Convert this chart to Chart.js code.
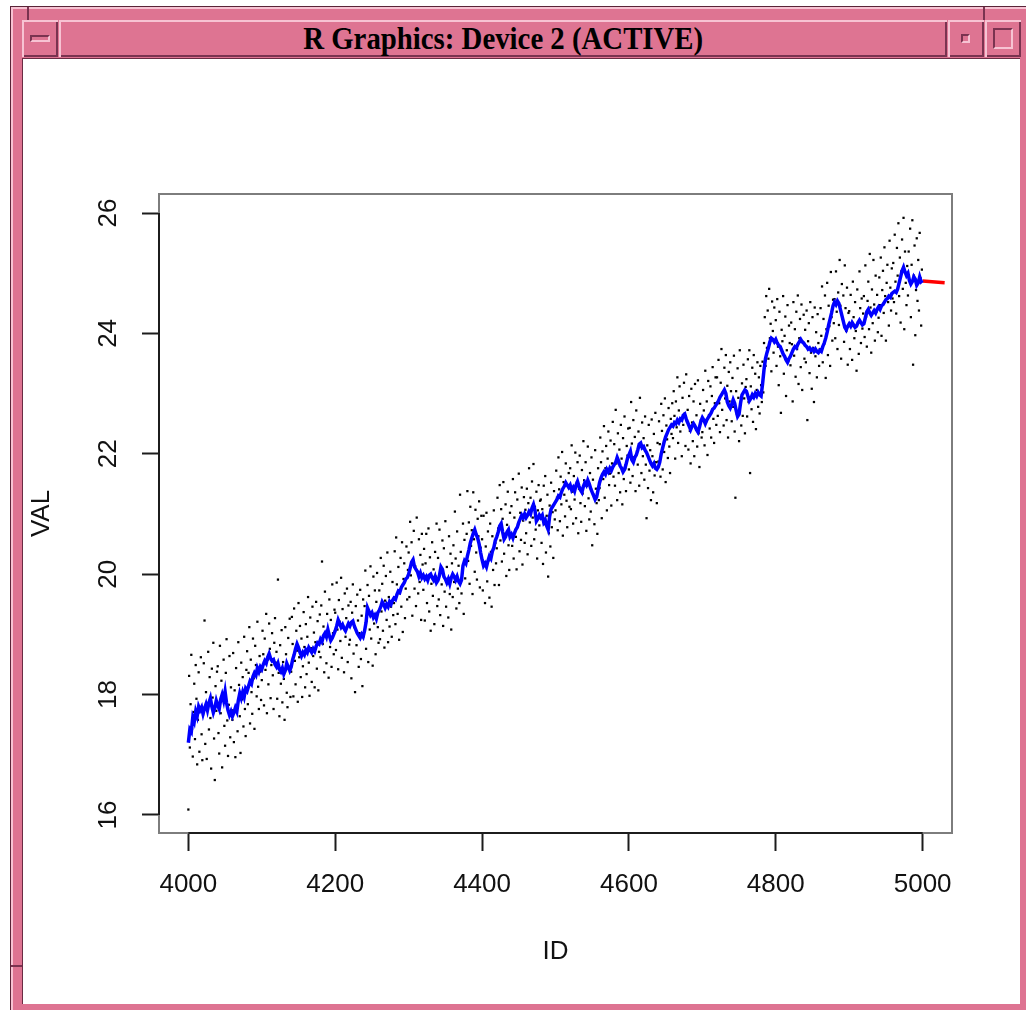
<!DOCTYPE html>
<html>
<head>
<meta charset="utf-8">
<script src="https://cdn.jsdelivr.net/npm/chart.js@4.4.1/dist/chart.umd.min.js"></script>
<style>
html,body{margin:0;padding:0;background:#fff;}
#win{position:relative;width:1026px;height:1010px;overflow:hidden;background:#fff;}
.p{position:absolute;box-sizing:border-box;background:#de7492;}
.bev{box-shadow:inset 2px 2px 0 #f7c3d3, inset -2px -2px 0 #7a3350;}
.ico{position:absolute;box-sizing:border-box;border-style:solid;border-width:2px;border-color:#7a3350 #f7c3d3 #f7c3d3 #7a3350;}
#content{position:absolute;left:22px;top:58px;width:998px;height:946px;background:#fff;border-left:1px solid #6a2c44;border-top:1px solid #6a2c44;box-sizing:border-box;}
#title{position:absolute;left:59px;top:20px;width:888px;height:37px;display:flex;align-items:center;justify-content:center;font-family:"Liberation Serif",serif;font-weight:bold;font-size:32px;color:#000;}
#title span{display:inline-block;transform:scaleX(0.9);white-space:nowrap;}
#c{position:absolute;left:0;top:0;}
</style>
</head>
<body>
<div id="win">
  <div class="p" style="left:10px;top:6px;width:1030px;height:1020px;border:1px solid #5a2438;box-shadow:inset 2px 2px 0 #f7c3d3, inset -2px -2px 0 #7a3350;"></div>
  <div class="p" style="left:27px;top:7px;width:2px;height:13px;background:#7a3350;"></div>
  <div class="p" style="left:983px;top:7px;width:2px;height:13px;background:#7a3350;"></div>
  <div class="p" style="left:11px;top:965px;width:11px;height:2px;background:#7a3350;"></div>
  <div class="p bev" style="left:22px;top:20px;width:36px;height:37px;"></div>
  <div class="ico" style="left:30px;top:35px;width:20px;height:7px;"></div>
  <div class="p bev" style="left:59px;top:20px;width:888px;height:37px;"></div>
  <div class="p bev" style="left:948px;top:20px;width:36px;height:37px;"></div>
  <div class="ico" style="left:961px;top:34px;width:9px;height:9px;"></div>
  <div class="p bev" style="left:985px;top:20px;width:36px;height:37px;"></div>
  <div class="ico" style="left:993px;top:28px;width:20px;height:21px;"></div>
  <div id="title"><span>R Graphics: Device 2 (ACTIVE)</span></div>
  <div id="content"></div>
  <canvas id="c" width="1026" height="1010"></canvas>
</div>
<script>
// ---- data ----
const xTicks = [4000, 4200, 4400, 4600, 4800, 5000];
const yTicks = [16, 18, 20, 22, 24, 26];
const xRange = [3960, 5040];
const yRange = [15.70, 26.316];

// scatter: one value per ID, starting at ID 4000
const scatterStart = 4000;
const scatterVals = [
16.09,18.31,17.12,17.84,18.66,17.43,16.97,17.71,18.18,17.26,18.49,17.93,16.84,17.58,18.37,17.05,17.79,18.62,17.34,16.91,
17.67,18.52,19.23,17.18,18.04,16.93,17.86,18.71,17.42,18.29,17.61,16.77,18.43,17.95,18.86,17.27,16.58,18.14,17.73,18.38,
18.47,17.36,17.02,18.81,17.69,18.23,16.79,17.94,18.58,17.48,17.15,18.36,18.92,17.57,16.98,17.83,18.64,17.29,18.12,17.74,
17.58,18.69,17.21,18.07,16.96,18.44,17.82,17.39,18.87,18.16,17.64,17.03,18.53,17.92,18.29,17.47,18.96,17.76,17.31,18.41,
18.72,17.84,18.36,19.12,17.52,18.58,18.04,17.68,18.93,18.27,17.43,18.81,18.49,17.97,19.21,18.13,17.76,18.64,18.38,17.91,
18.24,19.06,18.67,17.82,18.93,18.41,19.34,17.69,18.58,18.17,19.18,18.76,17.94,18.49,19.02,18.32,17.76,18.86,19.27,18.53,
18.71,17.93,19.91,18.36,17.64,18.82,18.18,19.07,17.87,18.54,18.26,17.58,19.12,18.67,18.03,17.79,18.94,18.42,19.26,17.96,
18.38,19.29,18.84,17.97,19.43,18.56,18.17,19.06,18.73,17.88,19.52,18.62,19.14,18.29,18.93,17.96,18.47,19.37,18.79,18.12,
19.17,18.34,18.96,19.62,18.53,17.98,19.28,18.77,18.21,19.46,18.64,19.03,18.12,18.87,19.54,18.43,19.22,18.07,18.71,19.33,
18.62,19.48,20.21,18.84,19.13,18.37,19.71,18.96,18.52,19.34,19.07,18.28,19.58,18.79,19.24,18.46,19.83,19.02,18.67,19.41,
19.36,18.74,19.86,19.08,18.42,19.57,19.21,18.89,19.94,18.61,19.42,19.13,18.37,19.68,18.96,19.27,19.76,18.54,19.48,18.83,
18.91,19.54,18.27,19.36,19.83,18.68,19.12,18.04,19.47,18.82,19.66,19.23,18.46,19.02,19.74,18.59,19.31,18.14,19.58,18.97,
19.47,20.06,18.76,19.23,19.82,18.54,19.64,19.08,20.13,18.93,19.37,18.48,19.96,19.18,19.73,18.67,19.54,20.02,19.12,18.86,
19.73,18.92,20.27,19.38,19.84,19.06,20.14,18.78,19.56,19.97,19.24,20.36,18.87,19.62,19.13,20.04,19.46,18.96,19.87,19.32,
19.52,20.38,19.17,20.61,19.83,19.34,20.12,18.91,19.68,20.27,19.46,20.53,19.04,19.92,20.18,19.27,19.76,20.46,19.58,20.07,
20.36,19.62,20.87,19.98,20.53,19.31,20.24,20.72,19.76,20.13,19.47,20.94,20.04,19.68,20.58,19.87,20.32,19.24,20.67,20.16,
19.74,20.42,19.23,20.18,20.67,19.52,19.93,20.76,19.38,20.28,19.06,19.84,20.53,19.64,20.08,19.17,20.37,19.96,20.84,19.47,
20.27,19.58,20.74,19.32,20.06,19.83,20.56,19.14,20.43,19.71,20.88,19.46,20.12,19.92,19.28,20.63,19.67,20.34,19.08,20.18,
19.62,20.48,19.87,21.04,20.26,19.43,20.71,19.76,20.14,19.52,21.32,20.37,19.68,20.02,20.84,19.34,20.57,19.93,20.22,20.67,
21.38,20.22,20.86,19.84,21.12,20.47,20.73,19.67,21.36,20.58,20.04,21.07,20.36,19.91,20.92,20.63,21.21,19.78,20.44,20.97,
20.58,19.73,20.97,20.14,19.52,20.46,21.02,19.88,20.71,20.23,19.61,20.84,20.37,19.46,20.63,20.07,21.06,19.82,20.52,20.18,
20.43,21.27,20.76,19.82,21.48,20.56,21.08,20.21,20.92,21.53,20.34,20.67,21.16,19.97,20.82,21.37,20.48,20.07,21.02,20.62,
21.13,20.47,21.58,20.26,20.94,21.36,20.62,20.08,21.24,20.83,21.67,20.38,21.02,20.57,21.44,20.16,20.89,21.28,20.52,21.07,
20.68,21.42,20.33,21.18,21.76,20.86,21.27,20.47,21.54,20.94,21.83,20.58,21.12,20.74,21.37,20.26,21.06,21.48,20.81,21.22,
21.24,20.52,21.08,20.17,21.47,20.83,21.63,20.36,20.97,21.32,19.96,20.68,21.14,20.46,21.52,20.78,21.03,20.27,21.38,20.91,
21.06,21.72,21.27,20.73,21.94,21.41,20.88,21.62,21.16,22.03,20.64,21.53,21.32,20.96,21.84,21.22,20.78,21.47,21.68,21.12,
21.76,21.08,22.14,21.37,20.84,21.63,21.24,22.02,20.93,21.52,21.86,20.68,21.42,21.97,21.18,20.87,21.73,21.34,22.21,21.56,
21.13,21.86,20.72,21.47,22.12,21.26,20.91,21.68,21.04,21.94,20.48,21.57,21.32,20.83,22.06,21.42,21.18,20.67,21.76,21.23,
21.43,22.27,21.86,20.93,22.04,21.58,22.46,21.27,21.76,22.13,21.06,21.92,22.37,21.48,21.67,22.22,21.14,21.84,22.53,21.62,
22.16,21.47,22.73,21.84,21.23,22.34,21.68,22.07,21.36,22.48,21.92,21.16,22.26,21.58,22.62,21.76,21.38,22.13,21.97,22.42,
21.74,22.43,21.52,22.86,22.17,21.63,22.56,21.94,22.28,21.38,22.72,22.04,21.82,22.37,21.47,22.93,22.12,21.68,22.52,21.96,
22.26,21.57,22.62,21.82,20.93,22.14,21.43,22.48,21.72,22.06,21.23,22.57,21.96,21.36,22.33,21.64,22.68,21.86,21.18,22.18,
21.87,22.54,22.16,21.62,22.83,22.38,21.74,22.64,22.03,22.92,21.53,22.47,22.24,21.93,22.76,22.12,21.68,22.58,22.33,22.84,
22.26,23.04,22.63,21.92,22.87,22.44,23.27,22.18,22.72,23.12,22.37,22.58,21.96,22.93,22.48,23.18,22.67,22.13,23.32,22.54,
22.73,22.07,22.96,22.38,21.84,23.08,22.52,22.21,22.87,21.96,23.16,22.43,22.64,22.12,23.22,22.34,21.78,22.83,22.56,22.27,
22.36,23.06,22.72,22.14,23.38,22.53,22.87,21.98,23.21,22.64,22.42,23.12,22.27,22.96,23.44,22.58,22.18,22.84,23.27,22.48,
23.27,22.63,23.56,22.84,22.36,23.18,23.74,22.73,23.02,22.47,23.43,22.92,23.64,22.56,23.13,22.27,23.36,22.87,23.52,23.04,
22.54,23.26,22.78,23.63,22.37,21.27,23.04,22.66,23.42,22.93,22.21,23.72,22.84,22.47,23.17,22.63,23.48,22.92,22.34,23.11,
23.24,22.62,23.57,22.86,23.72,21.68,23.12,22.74,23.43,22.53,23.64,22.96,23.33,22.41,23.06,23.52,22.78,23.27,22.67,23.46,
23.14,22.86,23.53,23.02,23.84,24.27,23.46,24.62,23.76,24.38,23.58,24.74,23.92,24.16,23.37,24.53,24.04,23.68,24.43,23.87,
24.22,23.46,24.57,23.78,23.14,24.36,23.62,22.68,24.06,23.87,24.62,23.33,23.96,24.28,22.96,23.72,24.47,23.54,24.13,23.84,
23.47,24.18,23.82,22.87,24.52,23.63,24.07,23.28,24.36,23.74,24.63,23.16,23.92,24.24,23.44,24.48,23.06,23.86,24.31,23.58,
24.06,23.52,24.38,22.56,23.87,24.17,23.34,24.52,23.68,23.08,24.27,23.76,22.86,24.43,23.62,24.02,23.27,24.32,23.84,23.46,
23.74,24.42,23.96,24.78,23.52,24.24,23.83,24.63,23.26,24.07,24.84,23.64,24.46,24.12,23.46,25.02,24.27,23.88,24.56,24.17,
24.57,23.92,25.03,24.36,23.74,24.68,24.14,25.22,24.46,23.58,24.82,24.24,24.63,23.86,25.13,24.42,24.04,24.76,23.48,24.34,
24.37,23.74,24.64,24.12,23.56,24.86,24.27,23.92,24.52,24.04,23.38,24.73,24.18,23.66,25.03,24.42,23.84,24.58,24.08,24.33,
24.62,23.94,25.13,24.28,23.78,24.54,24.86,24.07,25.32,24.43,23.68,24.73,24.17,25.22,24.48,23.88,24.96,24.36,24.64,24.02,
24.26,24.93,24.47,25.26,23.96,24.72,25.04,24.34,25.43,24.62,23.88,24.84,25.14,24.52,24.13,25.54,24.76,24.38,25.08,24.58,
25.17,24.52,25.64,24.86,24.33,25.42,24.96,25.83,24.62,25.26,24.18,25.03,25.56,24.74,25.92,24.07,25.36,24.84,24.47,25.12,
24.63,25.36,24.88,25.74,24.27,25.14,25.88,23.48,24.96,25.46,23.97,24.72,25.58,24.54,25.22,24.38,25.67,24.92,24.13,25.06
];

// blue smoothed line: one value every 2 IDs from 4000 to 5000
const lineStart = 4000;
const lineStep = 2;
const lineVals = [
17.20,17.42,17.38,17.62,17.55,17.72,17.64,17.80,17.74,17.79,17.68,17.77,17.84,17.74,17.86,17.94,17.80,17.70,17.78,17.90,17.82,17.76,17.92,18.00,17.90,
18.05,17.86,17.74,17.66,17.72,17.64,17.70,17.78,17.72,17.90,18.02,17.94,18.04,17.96,18.10,18.06,18.14,18.22,18.18,18.30,18.36,18.32,18.44,18.38,18.46,
18.42,18.50,18.56,18.52,18.62,18.68,18.60,18.56,18.58,18.50,18.46,18.52,18.42,18.38,18.44,18.34,18.40,18.52,18.46,18.40,18.46,18.58,18.66,18.76,18.84,
18.78,18.70,18.64,18.70,18.66,18.74,18.70,18.78,18.74,18.70,18.76,18.72,18.80,18.86,18.84,18.92,18.88,18.98,19.02,18.96,19.08,18.98,18.90,18.94,19.00,
19.06,19.14,19.24,19.18,19.12,19.16,19.10,19.06,19.12,19.18,19.14,19.20,19.22,19.14,19.08,19.02,18.98,18.94,19.00,18.96,19.06,19.20,19.44,19.38,19.32,
19.36,19.28,19.32,19.26,19.36,19.40,19.46,19.54,19.50,19.44,19.50,19.46,19.54,19.50,19.56,19.60,19.58,19.66,19.72,19.70,19.78,19.82,19.86,19.92,19.94,
20.00,20.10,20.20,20.24,20.12,20.08,20.04,19.96,20.02,19.94,19.98,19.92,19.96,19.90,19.98,20.00,19.94,19.90,19.96,19.86,19.90,19.98,20.12,20.08,19.96,
19.92,19.86,19.92,19.84,19.94,20.00,19.96,19.90,19.96,19.88,19.84,19.90,20.14,20.22,20.18,20.30,20.40,20.52,20.60,20.68,20.74,20.66,20.60,20.50,20.36,
20.24,20.14,20.18,20.12,20.22,20.30,20.26,20.38,20.44,20.56,20.62,20.70,20.80,20.84,20.70,20.58,20.62,20.70,20.74,20.62,20.66,20.60,20.68,20.74,20.78,
20.86,20.92,20.98,20.94,21.00,20.94,20.98,21.04,21.00,21.10,21.16,21.06,20.88,20.92,20.98,20.94,20.98,20.86,20.90,20.80,20.74,20.96,21.08,21.12,21.16,
21.20,21.24,21.30,21.28,21.36,21.42,21.46,21.52,21.48,21.44,21.48,21.40,21.44,21.38,21.48,21.54,21.46,21.40,21.36,21.46,21.52,21.48,21.56,21.50,21.42,
21.36,21.30,21.24,21.28,21.40,21.52,21.60,21.66,21.70,21.66,21.74,21.70,21.76,21.72,21.78,21.82,21.86,21.94,21.88,21.80,21.76,21.70,21.74,21.82,21.92,
21.98,22.04,21.90,21.86,21.94,21.98,22.06,22.16,22.18,22.10,22.12,22.06,22.02,21.96,21.90,21.84,21.80,21.84,21.76,21.74,21.78,21.86,22.00,22.10,22.20,
22.28,22.34,22.40,22.44,22.48,22.46,22.52,22.50,22.56,22.52,22.58,22.56,22.64,22.66,22.58,22.52,22.46,22.40,22.46,22.50,22.46,22.40,22.36,22.44,22.54,
22.60,22.56,22.50,22.56,22.60,22.64,22.68,22.74,22.76,22.80,22.84,22.88,22.94,22.98,23.02,23.06,23.00,22.86,22.80,22.76,22.82,22.90,22.84,22.72,22.62,
22.66,22.84,22.98,23.02,23.06,23.04,22.96,22.88,22.92,22.98,22.94,23.00,22.96,23.02,22.98,22.96,23.16,23.40,23.58,23.68,23.76,23.86,23.92,23.90,23.86,
23.90,23.84,23.80,23.78,23.72,23.66,23.62,23.56,23.52,23.58,23.62,23.68,23.74,23.78,23.76,23.82,23.86,23.90,23.86,23.84,23.80,23.78,23.74,23.76,23.72,
23.74,23.70,23.74,23.70,23.68,23.72,23.70,23.78,23.84,23.92,24.02,24.14,24.24,24.34,24.46,24.52,24.48,24.54,24.50,24.40,24.30,24.20,24.10,24.06,24.12,
24.16,24.12,24.18,24.14,24.10,24.12,24.18,24.22,24.18,24.14,24.16,24.26,24.36,24.40,24.34,24.30,24.34,24.38,24.34,24.40,24.44,24.40,24.46,24.48,24.52,
24.56,24.58,24.62,24.60,24.66,24.68,24.70,24.68,24.74,24.84,24.94,25.04,25.10,25.02,24.96,25.00,24.88,24.82,24.86,24.94,24.90,24.80,24.84,24.94,24.86,
24.88
];

// red forecast segment
const redIds = [5000, 5030];
const redVals = [24.87, 24.84];

// ---- chart ----
const FONT = '"Liberation Sans", Arial, sans-serif';
const scatterData = scatterVals.map((v, i) => ({x: scatterStart + i, y: v}));
const lineData = lineVals.map((v, i) => ({x: lineStart + i * lineStep, y: v}));
const redData = redVals.map((v, i) => ({x: redIds[i], y: v}));

const rFrame = {
  id: 'rFrame',
  afterDatasetsDraw(chart) {
    const {ctx, chartArea: a, scales: {x, y}} = chart;
    ctx.save();
    ctx.lineWidth = 2;
    ctx.strokeStyle = '#7d7d7d';
    ctx.strokeRect(a.left, a.top, a.right - a.left, a.bottom - a.top);
    ctx.strokeStyle = '#1c1c1c';
    ctx.beginPath();
    ctx.moveTo(x.getPixelForValue(xTicks[0]), a.bottom);
    ctx.lineTo(x.getPixelForValue(xTicks[xTicks.length - 1]), a.bottom);
    ctx.moveTo(a.left, y.getPixelForValue(yTicks[0]));
    ctx.lineTo(a.left, y.getPixelForValue(yTicks[yTicks.length - 1]));
    ctx.stroke();
    ctx.restore();
  }
};

new Chart(document.getElementById('c'), {
  type: 'scatter',
  data: {
    datasets: [
      {type: 'line', data: lineData, borderColor: '#0000ff', borderWidth: 3.5, pointRadius: 0, fill: false, tension: 0, order: 1},
      {type: 'line', data: redData, borderColor: '#ff0000', borderWidth: 3.5, pointRadius: 0, fill: false, tension: 0, order: 2},
      {type: 'scatter', data: scatterData, backgroundColor: '#000', borderWidth: 0, pointStyle: 'rect', pointRadius: 1.6, order: 3}
    ]
  },
  options: {
    responsive: false,
    animation: false,
    devicePixelRatio: 1,
    events: [],
    layout: {padding: {left: 0, top: 194, right: 74, bottom: 0}},
    plugins: {legend: {display: false}, tooltip: {enabled: false}},
    scales: {
      x: {
        type: 'linear', min: xRange[0], max: xRange[1],
        afterBuildTicks: s => { s.ticks = xTicks.map(v => ({value: v})); },
        afterFit: s => { s.height = 177; },
        grid: {display: true, drawOnChartArea: false, drawTicks: true, tickLength: 18, tickColor: '#1c1c1c', tickWidth: 2},
        border: {display: false},
        ticks: {autoSkip: false, maxRotation: 0, padding: 18, color: '#111', font: {family: FONT, size: 26}, callback: v => String(v)},
        title: {display: true, text: 'ID', color: '#111', font: {family: FONT, size: 26}, padding: {top: 0, bottom: 43}}
      },
      y: {
        type: 'linear', min: yRange[0], max: yRange[1],
        afterBuildTicks: s => { s.ticks = yTicks.map(v => ({value: v})); },
        afterFit: s => { s.width = 159; },
        grid: {display: true, drawOnChartArea: false, drawTicks: true, tickLength: 17, tickColor: '#1c1c1c', tickWidth: 2},
        border: {display: false},
        ticks: {autoSkip: false, minRotation: 90, maxRotation: 90, crossAlign: 'center', padding: 19, color: '#111', font: {family: FONT, size: 26}, callback: v => String(v)},
        title: {display: true, text: 'VAL', color: '#111', font: {family: FONT, size: 26}, padding: {top: 26, bottom: 0}}
      }
    }
  },
  plugins: [rFrame]
});
</script>
</body>
</html>
